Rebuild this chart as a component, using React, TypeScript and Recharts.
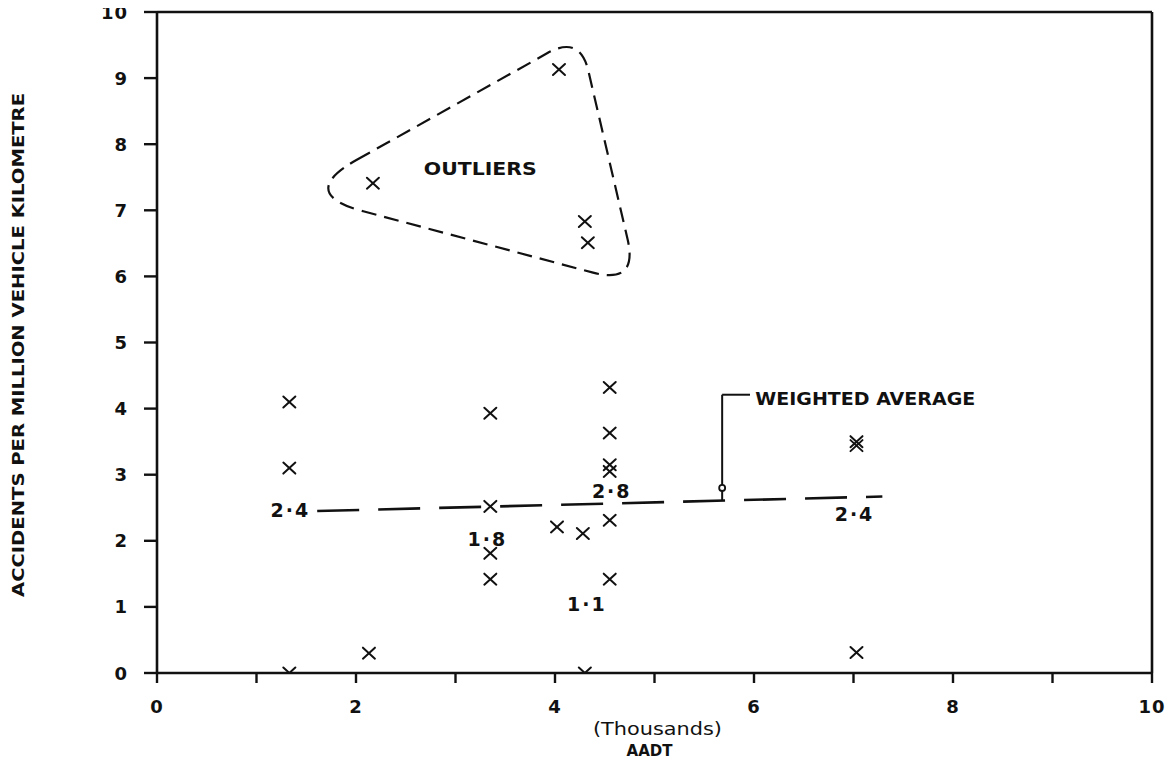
import React from 'react';
import {
  ScatterChart,
  Scatter,
  XAxis,
  YAxis,
  ReferenceLine,
  ReferenceArea,
  ReferenceDot,
} from 'recharts';

// ---------- data ----------
const aadtThousands = [
  1.33, 1.33, 1.33, 2.13, 2.17, 4.04, 4.3, 4.33, 4.55, 3.35, 4.55, 4.55,
  4.55, 3.35, 4.02, 4.28, 4.55, 3.35, 3.35, 4.55, 4.3, 7.03, 7.03, 7.03,
];
const accidentRate = [
  4.1, 3.1, 0.0, 0.3, 7.41, 9.13, 6.83, 6.51, 4.32, 3.93, 3.63, 3.15, 3.05,
  2.52, 2.21, 2.11, 2.31, 1.81, 1.42, 1.42, 0.0, 3.5, 3.44, 0.31,
];

const xTicks = [0, 1, 2, 3, 4, 5, 6, 7, 8, 9, 10];
const xLabelledTicks = [0, 2, 4, 6, 8, 10];
const yTicks = [0, 1, 2, 3, 4, 5, 6, 7, 8, 9, 10];

const groupLabels = ['2·4', '1·8', '2·8', '1·1', '2·4'];
const groupLabelX = [1.34, 3.32, 4.57, 4.32, 7.01];
const groupLabelY = [2.47, 2.03, 2.75, 1.05, 2.41];

const averageStart = { x: 1.61, y: 2.45 };
const averageEnd = { x: 7.29, y: 2.67 };

const outlierCornerX = [1.404, 4.251, 4.836];
const outlierCornerY = [7.254, 9.654, 5.874];

const pointerX = 5.68;
const pointerTopY = 4.21;
const pointerEndX = 5.96;
const pointerBottomY = 2.61;
const pointerTipY = 2.8;

const outliersNote = { x: 3.244, y: 7.625, text: 'OUTLIERS' };
const weightedNote = { x: 6.013, y: 4.15, text: 'WEIGHTED AVERAGE' };

const xTitleTop = '(Thousands)';
const xTitleBottom = 'AADT';
const yTitle = 'ACCIDENTS PER MILLION VEHICLE KILOMETRE';

// ---------- derived ----------
const points = aadtThousands.map((x, i) => ({ x, y: accidentRate[i] }));
const groupLabelData = groupLabels.map((label, i) => ({
  x: groupLabelX[i],
  y: groupLabelY[i],
  label,
}));

const xMin = Math.min(...outlierCornerX);
const xMax = Math.max(...outlierCornerX);
const yMin = Math.min(...outlierCornerY);
const yMax = Math.max(...outlierCornerY);

const INK = '#111';
const FONT = 'DejaVu Sans';

const XMark = (p: any) => {
  const { cx, cy } = p;
  if (cx == null || cy == null) return <g />;
  const h = 6;
  const v = 5.5;
  return (
    <g stroke={INK} strokeWidth={2} strokeLinecap="round">
      <line x1={cx - h} y1={cy - v} x2={cx + h} y2={cy + v} />
      <line x1={cx - h} y1={cy + v} x2={cx + h} y2={cy - v} />
    </g>
  );
};

const GroupLabel = (p: any) => {
  const { cx, cy, payload } = p;
  if (cx == null || cy == null) return <g />;
  return (
    <text
      x={cx}
      y={cy}
      textAnchor="middle"
      dominantBaseline="central"
      fontFamily={FONT}
      fontWeight="bold"
      fontSize={19}
      letterSpacing={2}
      fill={INK}
    >
      {payload.label}
    </text>
  );
};

const OutliersText = (p: any) => {
  const { cx, cy } = p;
  if (cx == null || cy == null) return <g />;
  return (
    <text
      x={cx - 56}
      y={cy}
      dominantBaseline="central"
      fontFamily={FONT}
      fontWeight="bold"
      fontSize={17}
      textLength={113}
      lengthAdjust="spacingAndGlyphs"
      fill={INK}
    >
      {outliersNote.text}
    </text>
  );
};

const WeightedText = (p: any) => {
  const { cx, cy } = p;
  if (cx == null || cy == null) return <g />;
  return (
    <text
      x={cx}
      y={cy}
      dominantBaseline="central"
      fontFamily={FONT}
      fontWeight="bold"
      fontSize={17}
      textLength={220}
      lengthAdjust="spacingAndGlyphs"
      fill={INK}
    >
      {weightedNote.text}
    </text>
  );
};

const OutlierLoop = (p: any) => {
  const { x, y, width, height } = p;
  if (![x, y, width, height].every((v) => typeof v === 'number' && isFinite(v)))
    return <g />;
  const pts = outlierCornerX.map((cx, i) => [
    x + ((cx - xMin) / (xMax - xMin)) * width,
    y + ((yMax - outlierCornerY[i]) / (yMax - yMin)) * height,
  ]);
  const r = 28;
  const n = pts.length;
  const tangents = pts.map((P, i) => {
    const A = pts[(i - 1 + n) % n];
    const B = pts[(i + 1) % n];
    const ua = [A[0] - P[0], A[1] - P[1]];
    const ub = [B[0] - P[0], B[1] - P[1]];
    const la = Math.hypot(ua[0], ua[1]);
    const lb = Math.hypot(ub[0], ub[1]);
    ua[0] /= la; ua[1] /= la; ub[0] /= lb; ub[1] /= lb;
    const theta = Math.acos(ua[0] * ub[0] + ua[1] * ub[1]);
    const d = r / Math.tan(theta / 2);
    return {
      t1: [P[0] + ua[0] * d, P[1] + ua[1] * d],
      t2: [P[0] + ub[0] * d, P[1] + ub[1] * d],
      P,
    };
  });
  let d = `M ${tangents[0].t2[0]} ${tangents[0].t2[1]}`;
  for (let k = 1; k <= n; k++) {
    const t = tangents[k % n];
    d += ` L ${t.t1[0]} ${t.t1[1]} Q ${t.P[0]} ${t.P[1]} ${t.t2[0]} ${t.t2[1]}`;
  }
  d += ' Z';
  return (
    <path
      d={d}
      fill="none"
      stroke={INK}
      strokeWidth={2.2}
      strokeDasharray="15 8"
    />
  );
};

const YTitle = (p: any) => {
  const vb = p.viewBox || { x: 0, y: 12, width: 157, height: 661 };
  const cx = vb.x + 18;
  const cy = vb.y + vb.height / 2 + 2.5;
  return (
    <text
      x={cx}
      y={cy}
      transform={`rotate(-90, ${cx}, ${cy})`}
      textAnchor="middle"
      dominantBaseline="central"
      fontFamily={FONT}
      fontWeight="bold"
      fontSize={16}
      textLength={504}
      lengthAdjust="spacingAndGlyphs"
      fill={INK}
    >
      {yTitle}
    </text>
  );
};

const XTitle = (p: any) => {
  const vb = p.viewBox || { x: 157, y: 673, width: 995, height: 92 };
  const cx = vb.x + vb.width / 2;
  return (
    <g fill={INK} fontFamily={FONT}>
      <text
        x={cx + 3}
        y={vb.y + 55}
        textAnchor="middle"
        dominantBaseline="central"
        fontSize={18}
        textLength={129}
        lengthAdjust="spacingAndGlyphs"
      >
        {xTitleTop}
      </text>
      <text
        x={cx - 5}
        y={vb.y + 77.5}
        textAnchor="middle"
        dominantBaseline="central"
        fontSize={16}
        fontWeight="bold"
        textLength={46}
        lengthAdjust="spacingAndGlyphs"
      >
        {xTitleBottom}
      </text>
    </g>
  );
};

const XTick = (p: any) => {
  const { x, y, payload } = p;
  const v = payload?.value;
  if (!xLabelledTicks.includes(v)) return <g />;
  return (
    <text
      x={x}
      y={y}
      dy="0.72em"
      textAnchor="middle"
      fontFamily={FONT}
      fontWeight="bold"
      fontSize={18}
      letterSpacing={1}
      fill={INK}
    >
      {String(v)}
    </text>
  );
};

const YTick = (p: any) => {
  const { x, y, payload } = p;
  return (
    <text
      x={x}
      y={y}
      textAnchor="end"
      dominantBaseline="central"
      fontFamily={FONT}
      fontWeight="bold"
      fontSize={18}
      letterSpacing={1}
      fill={INK}
    >
      {String(payload?.value)}
    </text>
  );
};

export default function App() {
  return (
    <div
      style={{
        background: '#fff',
        width: 1176,
        height: 765,
        marginTop: -8,
        marginLeft: -8,
      }}
    >
      <ScatterChart
        width={1176}
        height={765}
        margin={{ top: 12, right: 24, bottom: 0, left: 0 }}
      >
        <XAxis
          type="number"
          dataKey="x"
          domain={[0, 10]}
          ticks={xTicks}
          allowDataOverflow
          interval={0}
          height={92}
          tickSize={10}
          tickMargin={17}
          axisLine={{ stroke: INK, strokeWidth: 2.6 }}
          tickLine={{ stroke: INK, strokeWidth: 2.4 }}
          tick={XTick}
          label={{ content: XTitle }}
        />
        <YAxis
          type="number"
          dataKey="y"
          domain={[0, 10]}
          ticks={yTicks}
          allowDataOverflow
          interval={0}
          width={157}
          tickSize={13}
          tickMargin={16}
          axisLine={{ stroke: INK, strokeWidth: 2.6 }}
          tickLine={{ stroke: INK, strokeWidth: 2.4 }}
          tick={YTick}
          label={{ content: YTitle }}
        />
        <ReferenceLine y={10} stroke={INK} strokeWidth={2.6} />
        <ReferenceLine x={10} stroke={INK} strokeWidth={2.6} />
        <ReferenceArea
          x1={xMin}
          x2={xMax}
          y1={yMin}
          y2={yMax}
          shape={OutlierLoop}
        />
        <ReferenceLine
          segment={[averageStart, averageEnd]}
          stroke={INK}
          strokeWidth={2.6}
          strokeDasharray="42 19"
        />
        <ReferenceLine
          segment={[
            { x: pointerX, y: pointerTopY },
            { x: pointerX, y: pointerBottomY },
          ]}
          stroke={INK}
          strokeWidth={2}
        />
        <ReferenceLine
          segment={[
            { x: pointerX, y: pointerTopY },
            { x: pointerEndX, y: pointerTopY },
          ]}
          stroke={INK}
          strokeWidth={2}
        />
        <ReferenceDot
          x={pointerX}
          y={pointerTipY}
          r={3}
          fill="#fff"
          stroke={INK}
          strokeWidth={1.8}
        />
        <Scatter data={points} shape={XMark} isAnimationActive={false} />
        <Scatter
          data={groupLabelData}
          shape={GroupLabel}
          isAnimationActive={false}
        />
        <Scatter
          data={[outliersNote]}
          shape={OutliersText}
          isAnimationActive={false}
        />
        <Scatter
          data={[weightedNote]}
          shape={WeightedText}
          isAnimationActive={false}
        />
      </ScatterChart>
    </div>
  );
}
